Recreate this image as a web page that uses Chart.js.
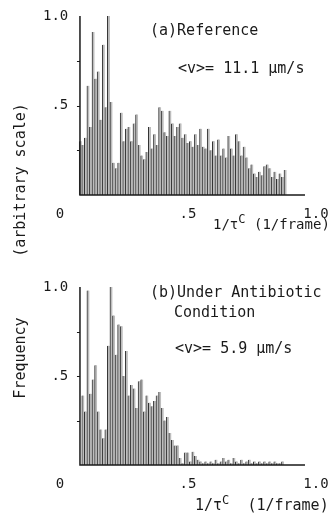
<!DOCTYPE html>
<html><head><meta charset="utf-8">
<script src="https://cdn.jsdelivr.net/npm/chart.js@4.4.1/dist/chart.umd.min.js"></script>
<style>
html,body{margin:0;padding:0;background:#fff;}
body{width:330px;height:526px;position:relative;overflow:hidden;font-family:"DejaVu Sans Mono",monospace;color:#1a1a1a;}
.t{position:absolute;white-space:nowrap;font-size:15px;line-height:1;}
.t sup{font-size:12px;vertical-align:6px;line-height:0;}
.r{position:absolute;white-space:nowrap;font-size:15px;line-height:1;transform:translate(-50%,-50%) rotate(-90deg);}
canvas{position:absolute;left:0;}
</style></head><body>
<canvas id="ca" width="330" height="235" style="top:0"></canvas>
<canvas id="cb" width="330" height="235" style="top:271px"></canvas>
<div class="t" style="left:150px;top:23px">(a)Reference</div>
<div class="t" style="left:178px;top:61px">&lt;v&gt;= 11.1 μm/s</div>
<div class="t" style="left:213px;top:217px;font-size:14px">1/τ<sup>C</sup> (1/frame)</div>
<div class="t" style="left:150px;top:285px">(b)Under Antibiotic</div>
<div class="t" style="left:174px;top:305px">Condition</div>
<div class="t" style="left:175px;top:341px">&lt;v&gt;= 5.9 μm/s</div>
<div class="t" style="left:195px;top:498px">1/τ<sup>C</sup>&nbsp; (1/frame)</div>
<div class="r" style="left:20px;top:180px">(arbitrary scale)</div>
<div class="r" style="left:20px;top:358px">Frequency</div>
<script>
// histogram bins: 1/tau^C (1/frame), bin width 0.01, first bin centre 0.08
const binStart = 0.08;
const binWidth = 0.01;
const xTickLabels = {0: '0', 0.5: '.5', 1: '1.0'};
const yTickLabels = {0.5: ' .5', 1: '1.0'};
const axisStart = 0.078, axisEnd = 0.957;

const referenceFreq = [
 0.30,0.28,0.32,0.61,0.38,0.91,0.65,0.69,0.42,0.84,
 0.49,1.00,0.52,0.18,0.15,0.18,0.46,0.30,0.37,0.38,
 0.30,0.40,0.45,0.28,0.22,0.20,0.24,0.38,0.26,0.34,
 0.28,0.49,0.47,0.35,0.33,0.47,0.40,0.33,0.38,0.40,
 0.32,0.34,0.29,0.30,0.27,0.34,0.28,0.37,0.27,0.26,
 0.37,0.25,0.30,0.22,0.31,0.22,0.26,0.21,0.33,0.26,
 0.22,0.34,0.30,0.22,0.27,0.21,0.15,0.17,0.12,0.10,
 0.13,0.11,0.16,0.17,0.15,0.10,0.13,0.09,0.12,0.10,
 0.14
];
const antibioticFreq = [
 0.00,0.39,0.30,0.98,0.40,0.48,0.56,0.30,0.20,0.15,
 0.20,0.67,1.00,0.84,0.62,0.79,0.78,0.50,0.64,0.39,
 0.45,0.43,0.32,0.47,0.48,0.30,0.39,0.35,0.33,0.36,
 0.39,0.41,0.32,0.25,0.27,0.18,0.14,0.11,0.11,0.04,
 0.01,0.07,0.07,0.02,0.075,0.05,0.03,0.02,0.01,0.02,
 0.01,0.02,0.01,0.03,0.01,0.02,0.04,0.02,0.03,0.01,
 0.04,0.02,0.01,0.03,0.01,0.02,0.03,0.01,0.02,0.01,
 0.02,0.01,0.02,0.01,0.02,0.01,0.02,0.01,0.01,0.02
];

const FONT = '"DejaVu Sans Mono", monospace';
const INK = '#1a1a1a';

const axesPlugin = {
  id: 'axes',
  afterDatasetsDraw(chart) {
    const {ctx, scales: {x, y}} = chart;
    const x0 = x.getPixelForValue(axisStart), x1 = x.getPixelForValue(axisEnd);
    const y0 = y.getPixelForValue(0), y1 = y.getPixelForValue(1);
    ctx.save();
    ctx.strokeStyle = INK;
    ctx.lineWidth = 1.5;
    ctx.beginPath();
    ctx.moveTo(x0, y1); ctx.lineTo(x0, y0); ctx.lineTo(x1, y0);
    ctx.stroke();
    ctx.lineWidth = 1;
    [0.25, 0.5, 0.75].forEach(v => {
      const yy = Math.round(y.getPixelForValue(v)) + 0.5;
      ctx.beginPath(); ctx.moveTo(x0 - 3, yy); ctx.lineTo(x0, yy); ctx.stroke();
    });
    ctx.restore();
  }
};

function makeChart(id, values, padBottom) {
  const pts = values.map((v, i) => ({x: +(binStart + binWidth * i).toFixed(3), y: v}));
  return new Chart(document.getElementById(id), {
    type: 'bar',
    data: {datasets: [{
      data: pts,
      backgroundColor: '#bdbdbd',
      borderColor: '#333333',
      borderWidth: {left: 1, top: 0, right: 0, bottom: 0},
      borderSkipped: false,
      barPercentage: 1,
      categoryPercentage: 1
    }]},
    options: {
      responsive: false,
      animation: false,
      devicePixelRatio: 1,
      layout: {padding: {left: 40, right: 14, top: 16, bottom: padBottom}},
      plugins: {legend: {display: false}, tooltip: {enabled: false}},
      scales: {
        x: {
          type: 'linear', min: 0, max: 1, offset: false,
          grid: {display: false, drawTicks: false, offset: false},
          border: {display: false},
          afterFit: s => { s.height = 25; s.paddingLeft = 0; s.paddingRight = 0; },
          afterBuildTicks: s => { s.ticks = [0, 0.5, 1].map(v => ({value: v})); },
          ticks: {
            color: INK, font: {family: FONT, size: 14}, padding: 11,
            maxRotation: 0, autoSkip: false,
            callback: v => xTickLabels[v] ?? ''
          }
        },
        y: {
          min: 0, max: 1,
          grid: {display: false, drawTicks: false},
          border: {display: false},
          afterFit: s => { s.width = 20; },
          afterBuildTicks: s => { s.ticks = [0, 0.5, 1].map(v => ({value: v})); },
          ticks: {
            color: INK, font: {family: FONT, size: 14}, padding: -17, mirror: true,
            callback: v => yTickLabels[v] ?? ''
          }
        }
      }
    },
    plugins: [axesPlugin]
  });
}

makeChart('ca', referenceFreq, 15);
makeChart('cb', antibioticFreq, 16);
</script>
</body></html>
